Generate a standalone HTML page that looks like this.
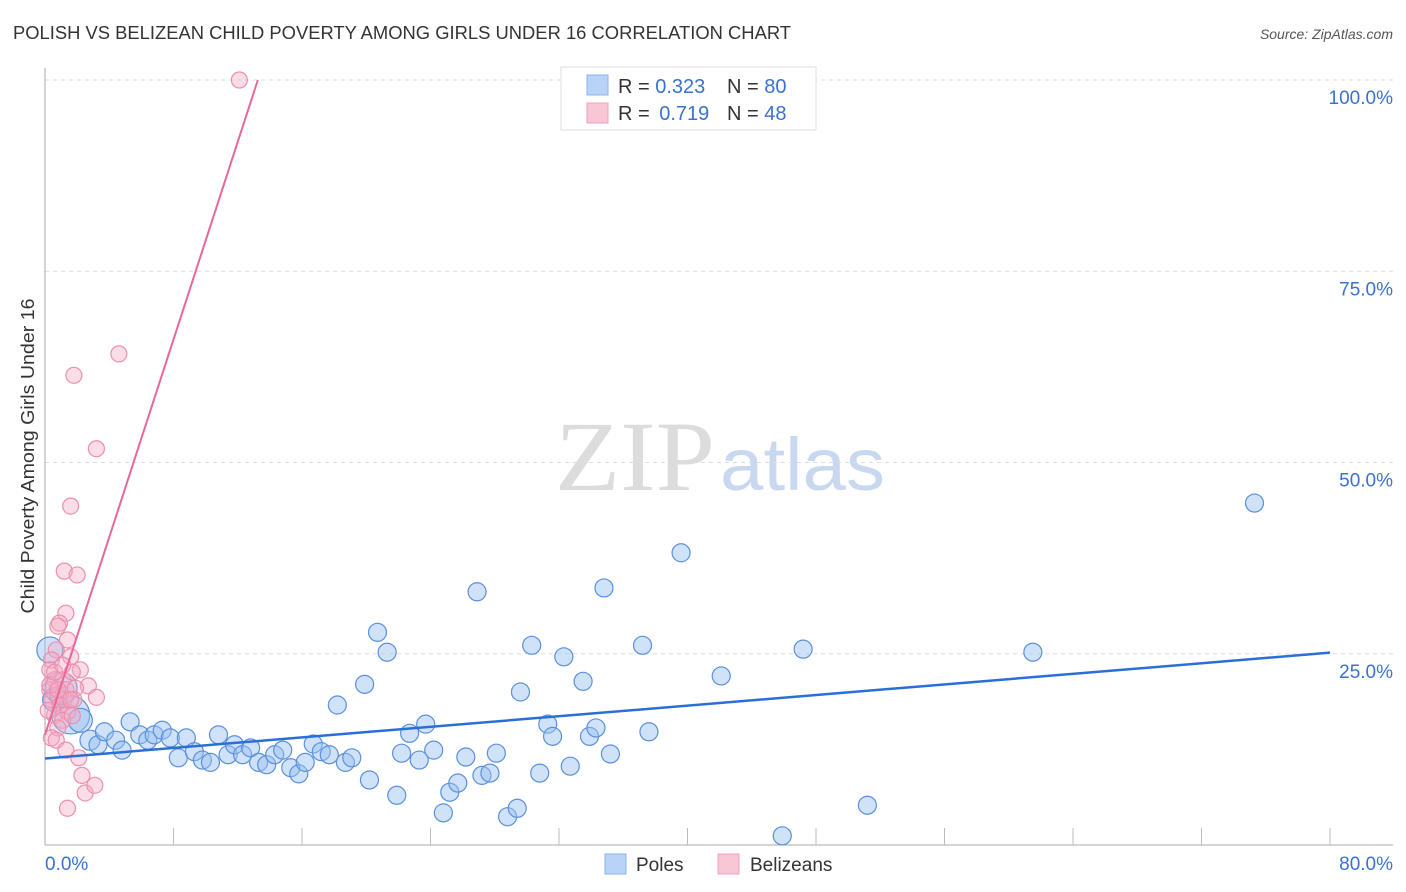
<!DOCTYPE html>
<html><head><meta charset="utf-8"><style>
body{margin:0;background:#fff;font-family:"Liberation Sans",sans-serif}
svg{display:block}
</style></head><body>
<svg id="c" width="1406" height="892" xmlns="http://www.w3.org/2000/svg">
<text x="13" y="39" font-size="18" fill="#333" textLength="778" lengthAdjust="spacingAndGlyphs">POLISH VS BELIZEAN CHILD POVERTY AMONG GIRLS UNDER 16 CORRELATION CHART</text>
<text x="1393" y="39" font-size="14" fill="#555" font-style="italic" text-anchor="end">Source: ZipAtlas.com</text>
<g>
<text x="555" y="490" font-size="100" font-family="Liberation Serif,serif" fill="#dcdcdc" textLength="160" lengthAdjust="spacingAndGlyphs">ZIP</text>
<text x="720" y="490" font-size="74" fill="#c8d8f0" textLength="165" lengthAdjust="spacingAndGlyphs">atlas</text>
</g>
<g id="grid"></g>
<g id="marks"></g>
<text transform="translate(34,456) rotate(-90)" font-size="18" fill="#333" text-anchor="middle" textLength="315" lengthAdjust="spacingAndGlyphs">Child Poverty Among Girls Under 16</text>
<g>
<rect x="561" y="67" width="255" height="63" fill="#fff" stroke="#ddd"/>
<rect x="587" y="75" width="21" height="20" fill="#b8d3f5" stroke="#8ab4ea"/>
<rect x="587" y="103" width="21" height="20" fill="#f9c6d5" stroke="#f0a0b8"/>
<text x="618" y="93" font-size="20" fill="#333">R = <tspan fill="#3a72d0">0.323</tspan></text>
<text x="727" y="93" font-size="20" fill="#333">N = <tspan fill="#3a72d0">80</tspan></text>
<text x="618" y="120" font-size="20" fill="#333">R = <tspan fill="#3a72d0" dx="4">0.719</tspan></text>
<text x="727" y="120" font-size="20" fill="#333">N = <tspan fill="#3a72d0">48</tspan></text>
</g>
<g>
<rect x="605" y="854" width="21" height="20" fill="#b8d3f5" stroke="#8ab4ea"/>
<text x="636" y="871" font-size="19" fill="#333">Poles</text>
<rect x="718" y="854" width="21" height="20" fill="#f9c6d5" stroke="#f0a0b8"/>
<text x="750" y="871" font-size="19" fill="#333">Belizeans</text>
</g>
</svg>
<script>
const xTicks=[0,80];
const yTicks=[25,50,75,100];
const blueX=[0.3,0.6,1.6,2.2,2.8,3.3,3.7,4.4,4.8,5.3,5.9,6.4,6.8,7.3,7.8,8.3,8.8,9.3,9.8,10.3,10.8,11.4,11.8,12.3,12.8,13.3,13.8,14.3,14.8,15.3,15.8,16.2,16.7,17.2,17.7,18.2,18.7,19.1,19.9,20.2,20.7,21.3,21.9,22.2,22.7,23.3,23.7,24.2,24.8,25.2,25.7,26.2,26.9,27.2,27.7,28.1,28.8,29.4,29.6,30.3,30.8,31.3,31.6,32.3,32.7,33.5,33.9,34.3,34.8,35.2,37.2,37.6,39.6,42.1,45.9,47.2,51.2,61.5,75.3,1.0];
const blueY=[25.5,19.0,17.0,16.3,13.7,13.1,14.8,13.7,12.4,16.1,14.4,13.7,14.4,15.0,14.0,11.4,14.0,12.2,11.1,10.8,14.4,11.8,13.1,11.8,12.7,10.8,10.5,11.8,12.4,10.1,9.3,10.8,13.2,12.2,11.8,18.3,10.8,11.4,21.0,8.5,27.8,25.2,6.5,12.0,14.6,11.1,15.8,12.4,4.2,6.9,8.1,11.5,33.1,9.1,9.4,12.0,3.7,4.8,20.0,26.1,9.4,15.8,14.2,24.6,10.3,21.4,14.2,15.3,33.6,11.9,26.1,14.8,38.2,22.1,1.2,25.6,5.2,25.2,44.7,20.5];
const blueR=[13,12,19,12,10,9,9,9,9,9,9,9,9,9,9,9,9,9,9,9,9,9,9,9,9,9,9,9,9,9,9,9,9,9,9,9,9,9,9,9,9,9,9,9,9,9,9,9,9,9,9,9,9,9,9,9,9,9,9,9,9,9,9,9,9,9,9,9,9,9,9,9,9,9,9,9,9,9,9,16];
const pinkX=[12.1,4.6,1.8,3.2,1.6,1.2,2.0,1.3,0.9,1.4,0.8,0.7,0.4,1.6,2.2,0.3,0.6,1.1,1.7,2.7,3.2,0.3,0.8,1.3,1.9,0.4,0.9,1.4,0.6,1.1,1.7,0.8,0.4,0.7,1.3,2.1,2.3,2.5,3.1,1.4,0.3,0.6,1.2,1.8,0.8,0.2,1.1,1.6];
const pinkY=[100,64.2,61.4,51.8,44.3,35.8,35.3,30.3,29.0,26.8,28.6,25.5,24.2,24.6,22.9,22.9,21.6,21.6,22.6,20.8,19.3,20.3,19.6,20.3,20.5,19.0,18.2,17.4,17.0,16.3,16.9,15.3,14.0,13.7,12.4,11.4,9.1,6.8,7.8,4.8,20.9,22.6,19.0,19.0,20.3,17.6,23.5,19.0];
const blueLine=[11.3,0.173];
const pinkLine=[14.4,6.46];
const X=v=>45+v/80*1285, Y=v=>845-v/100*765;
const NS="http://www.w3.org/2000/svg";
function mk(p,t,a){const e=document.createElementNS(NS,t);for(const k in a)e.setAttribute(k,a[k]);p.appendChild(e);return e;}
const grid=document.getElementById('grid'), marks=document.getElementById('marks');
yTicks.forEach(t=>{
 const l=mk(grid,'line',{x1:45,x2:1393,y1:Y(t),y2:Y(t),stroke:'#ddd','stroke-dasharray':'4,4'});
 
 
 const tx=mk(grid,'text',{x:1393,y:Y(t)+24,'font-size':19,fill:'#3a72d0','text-anchor':'end'});
 tx.textContent=t.toFixed(1)+'%';
 
 
});
const ax=mk(grid,'line',{x1:45,x2:45,y1:68,y2:845,stroke:'#aaa'});


const bx=mk(grid,'line',{x1:45,x2:1393,y1:845,y2:845,stroke:'#aaa'});


for(let i=1;i<=10;i++){const tk=mk(grid,'line',{x1:X(i*8),x2:X(i*8),y1:828,y2:845,stroke:'#bbb'});
 
 }
xTicks.forEach((t,i)=>{const tx=mk(grid,'text',{x:i?1393:45,y:870,'font-size':19,fill:'#3a72d0','text-anchor':i?'end':'start'});
 tx.textContent=t.toFixed(1)+'%';
 
 });
blueX.forEach((v,i)=>{const c=mk(marks,'circle',{cx:X(v),cy:Y(blueY[i]),r:blueR[i],fill:'rgba(150,190,240,0.45)',stroke:'#5a90dc','stroke-width':1.2});
 
 });
pinkX.forEach((v,i)=>{const c=mk(marks,'circle',{cx:X(v),cy:Y(pinkY[i]),r:8,fill:'rgba(245,170,195,0.4)',stroke:'#ec8fad','stroke-width':1.2});
 
 });
const bl=mk(marks,'line',{x1:X(0),y1:Y(blueLine[0]),x2:X(80),y2:Y(blueLine[0]+blueLine[1]*80),stroke:'#2a6fd6','stroke-width':2.5});


const xe=(100-pinkLine[0])/pinkLine[1];
const pl=mk(marks,'line',{x1:X(0),y1:Y(pinkLine[0]),x2:X(xe),y2:Y(100),stroke:'#e8679a','stroke-width':2});


</script>
</body></html>
